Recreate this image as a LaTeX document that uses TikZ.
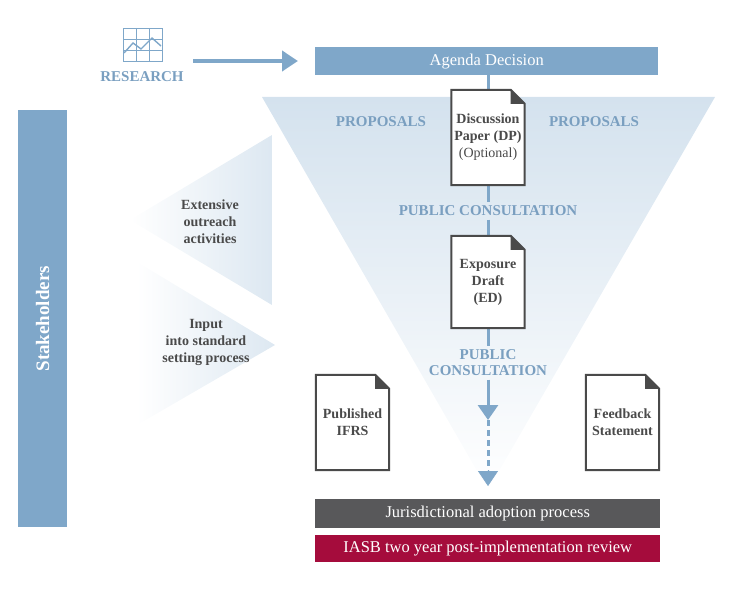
\documentclass[tikz,border=0pt]{standalone}
\usepackage{fontspec}
\setmainfont{Liberation Serif}
\usetikzlibrary{arrows.meta,shapes.geometric}
\definecolor{sb}{HTML}{7FA7C9}
\definecolor{sbt}{HTML}{7A9FC0}
\definecolor{tg}{HTML}{4A4A4A}
\definecolor{dg}{HTML}{58585A}
\definecolor{cr}{HTML}{A50C3C}
\definecolor{pale}{HTML}{D4E2EE}
\tikzset{
  bar/.style={fill=sb,draw=none,text=white,font=\fontsize{16.5}{18}\selectfont},
  blab/.style={text=sbt,font=\bfseries\fontsize{15}{16}\selectfont,align=center},
  glab/.style={text=tg,font=\bfseries\fontsize{14}{17}\selectfont,align=center},
  doc/.style={minimum width=73pt,text=tg,font=\bfseries\fontsize{14}{17}\selectfont,align=center,inner sep=0pt},
  conn/.style={draw=sb,line width=3pt},
}
\newcommand\mydoc[1]{%
  \draw[tg,line width=2pt,fill=white] (#1.north west) -- ([xshift=-14pt]#1.north east) -- ([yshift=-14pt]#1.north east) -- (#1.south east) -- (#1.south west) -- cycle;
  \fill[tg] ([xshift=-14pt]#1.north east) -- ([yshift=-14pt]#1.north east) -- ([xshift=-14pt,yshift=-14pt]#1.north east) -- cycle;}
\begin{document}
\begin{tikzpicture}[x=1pt,y=-1pt]
\useasboundingbox (0,0) rectangle (746,604);
% big triangle
\shade[top color=pale,bottom color=white] (262,97) -- (715,97) -- (488,490) -- cycle;
% left triangles
\shade[left color=white,right color=pale!80] (272,135) -- (272,305) -- (130,220) -- cycle;
\shade[left color=white,right color=pale!80] (137,262) -- (275,345) -- (137,425) -- cycle;
% stakeholders
\node[bar,minimum width=49pt,minimum height=417pt,anchor=north west] (stk) at (18,110) {};
\node[rotate=90,text=white,font=\bfseries\fontsize{19}{21}\selectfont] (stkt) at (stk.center) {Stakeholders};
% research icon
\node[draw=sb,line width=1pt,minimum width=39pt,minimum height=33pt,anchor=north west,inner sep=0pt] (icon) at (123,28) {};
\draw[sb,line width=0.7pt] (136,28) -- (136,61) (149,28) -- (149,61) (123,39) -- (162,39) (123,50) -- (162,50);
\draw[sb,line width=1.4pt] (124,53) -- (133,43) -- (141,49) -- (152,38) -- (161,46);
\node[blab] (res) at (142,77) {RESEARCH};
% agenda
\node[bar,minimum width=343pt,minimum height=28pt,anchor=north west] (ag) at (315,47) {Agenda Decision};
\coordinate (rs) at (193,61);
\draw[sb,line width=4.5pt,-{Triangle[length=16pt,width=20pt]}] (rs) -- (298,61);
% documents
\node[doc,minimum height=95pt] (dp) at (488,137.5) {};
\node[doc,minimum height=92pt] (ed) at (488,282) {};
\node[doc,minimum height=95pt] (ifrs) at (352.5,422.5) {};
\node[doc,minimum height=95pt] (fb) at (622.5,422.5) {};
\node[blab] (pc1) at (488,211) {PUBLIC CONSULTATION};
\node[blab] (pc2) at (488,363) {PUBLIC\\CONSULTATION};
\node[blab] (p1) at (381,122) {PROPOSALS};
\node[blab] (p2) at (594,122) {PROPOSALS};
\draw[conn] (ag.south -| dp.north) -- (dp.north);
\draw[conn] (dp.south) -- (dp.south |- pc1.north);
\draw[conn] (ed.north |- pc1.south) -- (ed.north);
\draw[conn] (ed.south) -- (ed.south |- pc2.north);
\mydoc{dp}\mydoc{ed}\mydoc{ifrs}\mydoc{fb}
\node[doc] at (dp) {Discussion\\Paper (DP)\\\normalfont(Optional)};
\node[doc] at (ed) {Exposure\\Draft\\(ED)};
\node[doc] at (ifrs) {Published\\IFRS};
\node[doc] at (fb) {Feedback\\Statement};
% bottom bars
\node[bar,fill=dg,minimum width=345pt,minimum height=29pt,anchor=north west] (jur) at (315,499) {Jurisdictional adoption process};
\node[bar,fill=cr,minimum width=345pt,minimum height=27pt,anchor=north west] (iasb) at (315,535) {IASB two year post-implementation review};
\coordinate (a1) at (488,420);
\coordinate (a2) at (488,470);
\draw[sb,line width=3pt,-{Triangle[length=15pt,width=20pt]}] (pc2.south) -- (a1);
\draw[sb,line width=3pt,dash pattern=on 6pt off 4pt] (a1) -- (a2);
\draw[sb,-{Triangle[length=15pt,width=20pt]}] (a2) -- (488,486);
% side texts
\node[glab] (ext) at (210,222) {Extensive\\outreach\\activities};
\node[glab] (inp) at (206,342) {Input\\into standard\\setting process};
\end{tikzpicture}
\end{document}
